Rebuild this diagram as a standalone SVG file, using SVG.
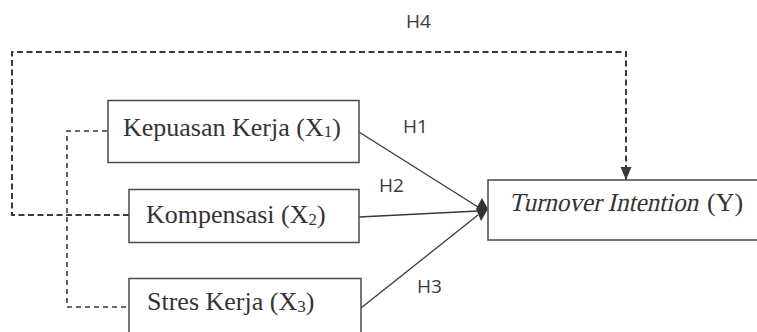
<svg xmlns="http://www.w3.org/2000/svg" width="757" height="332" viewBox="0 0 757 332">
  <style>
    .box { fill: none; stroke: #4a4a4a; stroke-width: 1.5; }
    .lbl { font-family: "Liberation Serif", "Times New Roman", serif; font-size: 26px; fill: #333; }
    .sub { font-size: 17px; }
    .hyp { font-family: "Open Sans", "Liberation Sans", sans-serif; font-size: 19px; fill: #3a3a3a; }
    .solid { fill: none; stroke: #3a3a3a; stroke-width: 1.3; }
    .dashO { fill: none; stroke: #3a3a3a; stroke-width: 2; stroke-dasharray: 6 3.5; }
    .dashI { fill: none; stroke: #3a3a3a; stroke-width: 1.6; stroke-dasharray: 5 4; }
  </style>
  <defs>
    <marker id="arrowDown" markerUnits="userSpaceOnUse" markerWidth="14" markerHeight="12" refX="13" refY="5.5" orient="auto">
      <path d="M0,0 L13,5.5 L0,11 z" fill="#3a3a3a"/>
    </marker>
  </defs>
  <rect width="757" height="332" fill="#ffffff"/>

  <g id="connectors">
    <path class="dashO" d="M129,215 H12 V52 H626 V180" marker-end="url(#arrowDown)"/>
    <path class="dashI" d="M107,131 H67 V307 H129"/>
    <path class="solid" d="M359,132 L478,207"/>
    <path class="solid" d="M359,217 L478,211"/>
    <path class="solid" d="M361,308 L478,215"/>
    <polygon points="476,209 482,198 488,209 481,221" fill="#333"/>
    <text class="hyp" x="406" y="28">H4</text>
    <text class="hyp" x="403" y="133">H1</text>
    <text class="hyp" x="379" y="192">H2</text>
    <text class="hyp" x="417" y="293">H3</text>
  </g>

  <g id="node-x1">
    <rect class="box" x="108" y="100.5" width="251" height="62"/>
    <text class="lbl" x="123" y="135.5">Kepuasan Kerja (X<tspan class="sub" dy="1.5">1</tspan><tspan dy="-1.5">)</tspan></text>
  </g>
  <g id="node-x2">
    <rect class="box" x="129" y="189.5" width="230" height="53"/>
    <text class="lbl" x="146" y="223">Kompensasi (X<tspan class="sub" dy="1.5">2</tspan><tspan dy="-1.5">)</tspan></text>
  </g>
  <g id="node-x3">
    <rect class="box" x="129" y="278.5" width="232" height="70"/>
    <text class="lbl" x="147" y="310">Stres Kerja (X<tspan class="sub" dy="1.5">3</tspan><tspan dy="-1.5">)</tspan></text>
  </g>
  <g id="node-y">
    <rect class="box" x="488" y="180" width="290" height="60"/>
    <text class="lbl" transform="translate(509,211) skewX(-13)" x="0" y="0" textLength="189" lengthAdjust="spacingAndGlyphs">Turnover Intention</text>
    <text class="lbl" x="707" y="211">(Y)</text>
  </g>
</svg>
